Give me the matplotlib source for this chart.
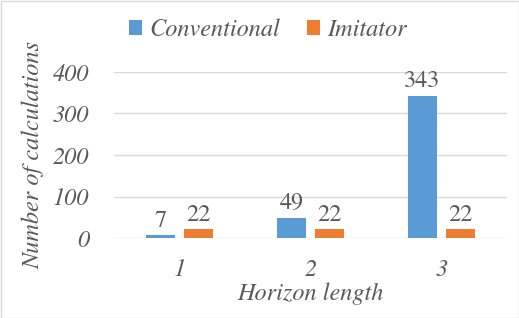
import numpy as np
import matplotlib.pyplot as plt
from matplotlib.patches import Rectangle

# data
horizons = ["1", "2", "3"]
conventional = [7, 49, 343]
imitator = [22, 22, 22]
yticks = [0, 100, 200, 300, 400]

# Times-like font (Liberation Serif did not render as expected)
plt.rcParams['font.family'] = 'TeX Gyre Termes'
txt = '#595959'
fs = 17.5

fig = plt.figure(figsize=[5.19, 3.18], dpi=100)
ax = fig.add_axes([114 / 519, 1 - 238 / 318, (507 - 114) / 519, (238 - 72) / 318])

x = np.arange(len(horizons))
w = 0.22
b1 = ax.bar(x - 0.145, conventional, w, color='#5b9bd5', label='Conventional', zorder=3)
b2 = ax.bar(x + 0.145, imitator, w, color='#ed7d31', label='Imitator', zorder=3)

# value labels above bars
for bars, vals in ((b1, conventional), (b2, imitator)):
    for r, v in zip(bars, vals):
        ax.text(r.get_x() + r.get_width() / 2, v + 8, str(v), ha='center', va='bottom',
                fontsize=fs, color=txt, clip_on=False)

ax.set_xlim(-0.5, 2.5)
ax.set_ylim(0, 400)
ax.set_yticks(yticks)
ax.set_yticklabels([str(t) for t in yticks], fontstyle='italic', fontsize=fs, color=txt)
ax.set_xticks(x)
ax.set_xticklabels(horizons, fontstyle='italic', fontsize=fs, color=txt)
ax.tick_params(length=0)
ax.tick_params(axis='y', pad=18)
ax.tick_params(axis='x', pad=15)
ax.grid(axis='y', color='#d9d9d9', lw=1, zorder=0)
for s in ax.spines.values():
    s.set_visible(False)

ax.set_xlabel('Horizon length', fontstyle='italic', fontsize=fs, color=txt, labelpad=1)
ax.set_ylabel('Number of calculations', fontstyle='italic', fontsize=fs, color=txt, labelpad=6)

leg = fig.legend(loc='center', bbox_to_anchor=(268 / 519, 1 - 30 / 318), ncol=2, frameon=False,
                 prop={'style': 'italic', 'size': fs}, handlelength=0.55, handleheight=0.55,
                 handletextpad=0.3, columnspacing=1.1)
for t in leg.get_texts():
    t.set_color(txt)

# light border round the whole chart
fig.add_artist(Rectangle((0.5 / 519, 0.5 / 318), 1 - 1 / 519, 1 - 1 / 318, transform=fig.transFigure,
                         fill=False, edgecolor='#d9d9d9', lw=1))

plt.savefig('out.png', dpi=100)
